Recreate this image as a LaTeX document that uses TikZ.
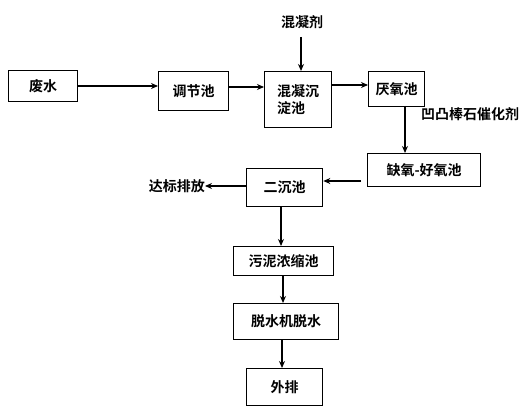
\documentclass[tikz,border=0pt]{standalone}
\usepackage{fontspec}
\setmainfont{Noto Sans CJK SC Bold}
\usetikzlibrary{arrows.meta}
\begin{document}
\begin{tikzpicture}[x=1pt,y=-1pt,
  box/.style={draw, line width=1.3pt, anchor=north west, inner sep=0pt, font=\fontsize{14}{17}\selectfont},
  lbl/.style={inner sep=0pt, font=\fontsize{14}{17}\selectfont},
  flow/.style={line width=1.2pt, -{Stealth[length=7pt,width=6pt]}}]
\useasboundingbox (0,0) rectangle (524,406);
\node[box, minimum width=69pt, minimum height=31pt] (a) at (8,70) {废水};
\node[box, minimum width=70pt, minimum height=39pt] (b) at (158,71) {调节池};
\node[box, minimum width=67pt, minimum height=56pt, align=left] (c) at (264,71) {混凝沉\\淀池};
\node[box, minimum width=56pt, minimum height=35pt] (d) at (368,71) {厌氧池};
\node[box, minimum width=113pt, minimum height=33pt] (e) at (367,153) {缺氧-好氧池};
\node[box, minimum width=76pt, minimum height=38pt] (f) at (246,168) {二沉池};
\node[box, minimum width=100pt, minimum height=29pt] (g) at (233,246) {污泥浓缩池};
\node[box, minimum width=105pt, minimum height=36pt] (h) at (233,303) {脱水机脱水};
\node[box, minimum width=76pt, minimum height=37pt] (i) at (246,368) {外排};
\node[lbl] (agent) at (302,22) {混凝剂};
\node[lbl, anchor=west] (cat) at (421,114) {凹凸棒石催化剂};
\node[lbl, anchor=east] (out) at (205,186) {达标排放};
\coordinate (agentEnd) at (301,37);
\draw[flow] (agentEnd) -- (c.north -| agentEnd);
\draw[flow] (a.east |- 0,86) -- (b.west |- 0,86);
\draw[flow] (b.east |- 0,87) -- (c.west |- 0,87);
\draw[flow] (c.east |- 0,85) -- (d.west |- 0,85);
\coordinate (dOut) at (405,106);
\draw[flow] (dOut) -- (e.north -| dOut);
\coordinate (eOut) at (361,181);
\draw[flow] (eOut) -- (f.east |- eOut);
\draw[flow] (f.west |- 0,186) -- (out.east |- 0,186);
\draw[flow] (f.south -| 281,0) -- (g.north -| 281,0);
\draw[flow] (g.south -| 283,0) -- (h.north -| 283,0);
\draw[flow] (h.south -| 282,0) -- (i.north -| 282,0);
\end{tikzpicture}
\end{document}
